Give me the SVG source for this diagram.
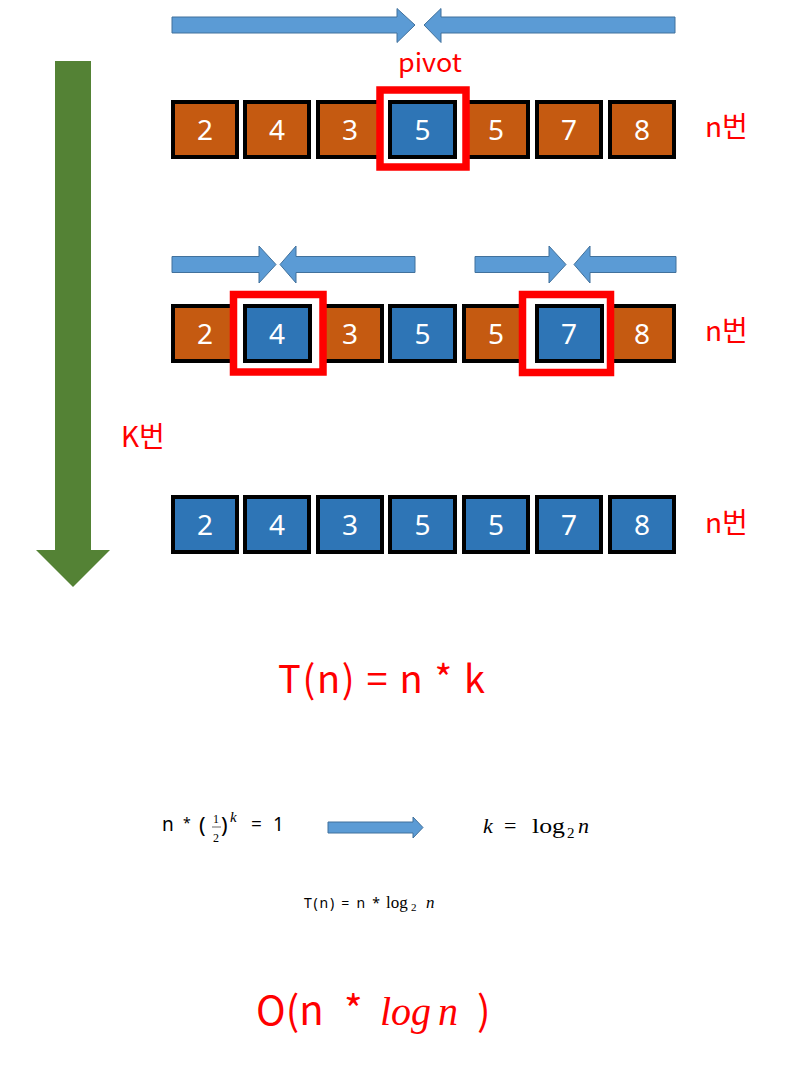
<svg xmlns="http://www.w3.org/2000/svg" width="792" height="1076" viewBox="0 0 792 1076">
<style>
.org{fill:#C55A11;stroke:#000;stroke-width:4}
.blu{fill:#2E75B6;stroke:#000;stroke-width:4}
.num{font-family:"Noto Sans","Noto Sans CJK KR",sans-serif;font-size:28px;fill:#fff;text-anchor:middle}
.red{fill:#fff;stroke:#FF0000;stroke-width:7.5}
.lbl{font-family:"Noto Sans CJK KR","Noto Sans",sans-serif;fill:#FF0000}
.arr{fill:#5B9BD5;stroke:#41719C;stroke-width:1}
.sans{font-family:"Noto Sans","Noto Sans CJK KR",sans-serif;fill:#000}
.math{font-family:"Liberation Serif","DejaVu Serif",serif;fill:#000}
</style>
<rect width="792" height="1076" fill="#fff"/>
<g id="connectors">
<polygon class="arr" points="172,17 397,17 397,8.5 415,25 397,42.5 397,33 172,33"/>
<polygon class="arr" points="675,17 441,17 441,8.5 424,25 441,42.5 441,33 675,33"/>
<polygon class="arr" points="172,256.5 259,256.5 259,246 276,264.5 259,283 259,272.5 172,272.5"/>
<polygon class="arr" points="415,256.5 296,256.5 296,246 280,264.5 296,283 296,272.5 415,272.5"/>
<polygon class="arr" points="475,256.5 549,256.5 549,246 566,264.5 549,283 549,272.5 475,272.5"/>
<polygon class="arr" points="676,256.5 590,256.5 590,246 574,264.5 590,283 590,272.5 676,272.5"/>
<polygon fill="#548235" points="55,61 91,61 91,550 110,550 73,587 36,550 55,550"/>
<polygon class="arr" points="328,822 413,822 413,817 423,827.5 413,838 413,833 328,833"/>
</g>
<g id="row1">
<rect class="org" x="173" y="102" width="64" height="55"/><text class="num" x="205" y="140">2</text>
<rect class="org" x="245" y="102" width="64" height="55"/><text class="num" x="277" y="140">4</text>
<rect class="org" x="318" y="102" width="64" height="55"/><text class="num" x="350" y="140">3</text>
<rect class="org" x="464" y="102" width="64" height="55"/><text class="num" x="496" y="140">5</text>
<rect class="org" x="537" y="102" width="64" height="55"/><text class="num" x="569" y="140">7</text>
<rect class="org" x="610" y="102" width="64" height="55"/><text class="num" x="642" y="140">8</text>
<g id="pivot1">
<rect class="red" x="380" y="90" width="86" height="77" stroke-width="8"/>
<rect class="blu" x="390" y="102" width="65" height="55"/><text class="num" x="422.5" y="140">5</text>
</g>
<text class="lbl" x="398" y="72" font-size="25" textLength="64" lengthAdjust="spacingAndGlyphs">pivot</text>
<text class="lbl" x="705" y="137" font-size="28">n번</text>
</g>
<g id="row2">
<rect class="org" x="173" y="306" width="64" height="55"/><text class="num" x="205" y="344">2</text>
<rect class="org" x="318" y="306" width="64" height="55"/><text class="num" x="350" y="344">3</text>
<rect class="blu" x="390" y="306" width="65" height="55"/><text class="num" x="422.5" y="344">5</text>
<rect class="org" x="464" y="306" width="64" height="55"/><text class="num" x="496" y="344">5</text>
<rect class="org" x="610" y="306" width="64" height="55"/><text class="num" x="642" y="344">8</text>
<g id="pivot2">
<rect class="red" x="233.5" y="294.5" width="89.5" height="77.5"/>
<rect class="blu" x="245" y="306" width="65" height="55"/><text class="num" x="277" y="344">4</text>
</g>
<g id="pivot3">
<rect class="red" x="522.5" y="294.5" width="88" height="78"/>
<rect class="blu" x="537" y="306" width="65" height="55"/><text class="num" x="569" y="344">7</text>
</g>
<text class="lbl" x="705" y="341" font-size="28">n번</text>
</g>
<g id="row3">
<rect class="blu" x="173" y="497" width="64" height="55"/><text class="num" x="205" y="535">2</text>
<rect class="blu" x="245" y="497" width="64" height="55"/><text class="num" x="277" y="535">4</text>
<rect class="blu" x="318" y="497" width="64" height="55"/><text class="num" x="350" y="535">3</text>
<rect class="blu" x="390" y="497" width="65" height="55"/><text class="num" x="422.5" y="535">5</text>
<rect class="blu" x="464" y="497" width="64" height="55"/><text class="num" x="496" y="535">5</text>
<rect class="blu" x="537" y="497" width="64" height="55"/><text class="num" x="569" y="535">7</text>
<rect class="blu" x="610" y="497" width="64" height="55"/><text class="num" x="642" y="535">8</text>
<text class="lbl" x="705" y="533" font-size="28">n번</text>
</g>
<g id="klabel"><text class="lbl" x="121" y="447" font-size="28">K번</text></g>
<g id="tn"><text class="lbl" x="278" y="693" font-size="38" textLength="207" lengthAdjust="spacing">T(n) = n * k</text></g>
<g id="eq1">
<text class="sans" x="162" y="831" font-size="19">n</text>
<text class="sans" x="183" y="828" font-size="14">*</text>
<text class="sans" x="199" y="833" font-size="22">(</text>
<text class="math" x="213" y="823" font-size="12">1</text>
<line x1="212" y1="827" x2="221" y2="827" stroke="#000" stroke-width="0.6"/>
<text class="math" x="213" y="842" font-size="12">2</text>
<text class="sans" x="221" y="833" font-size="22">)</text>
<text class="math" x="230" y="822" font-size="15" font-style="italic">k</text>
<text class="sans" x="251" y="831" font-size="19">=</text>
<text class="sans" x="273" y="831" font-size="19">1</text>
</g>
<g id="eq2">
<text class="math" x="483" y="833" font-size="22" font-style="italic">k</text>
<text class="math" x="504" y="833" font-size="22">=</text>
<text class="math" x="532" y="833" font-size="22" textLength="33" lengthAdjust="spacingAndGlyphs">log</text>
<text class="math" x="567" y="838" font-size="15">2</text>
<text class="math" x="578" y="833" font-size="22" font-style="italic">n</text>
</g>
<g id="eq3">
<text class="sans" x="304" y="908" font-size="14" textLength="76" lengthAdjust="spacing">T(n) = n *</text>
<text class="math" x="386" y="908" font-size="17">log</text>
<text class="math" x="411" y="911" font-size="11">2</text>
<text class="math" x="426" y="908" font-size="17" font-style="italic">n</text>
</g>
<g id="bigO">
<text class="lbl" x="256" y="1025" font-size="40">O(n</text>
<text class="lbl" x="344" y="1025" font-size="40">*</text>
<text x="380" y="1025" font-size="40" font-style="italic" font-family="Liberation Serif,serif" fill="#FF0000">log</text>
<text x="438" y="1025" font-size="40" font-style="italic" font-family="Liberation Serif,serif" fill="#FF0000">n</text>
<text class="lbl" x="477" y="1025" font-size="40">)</text>
</g>
</svg>
